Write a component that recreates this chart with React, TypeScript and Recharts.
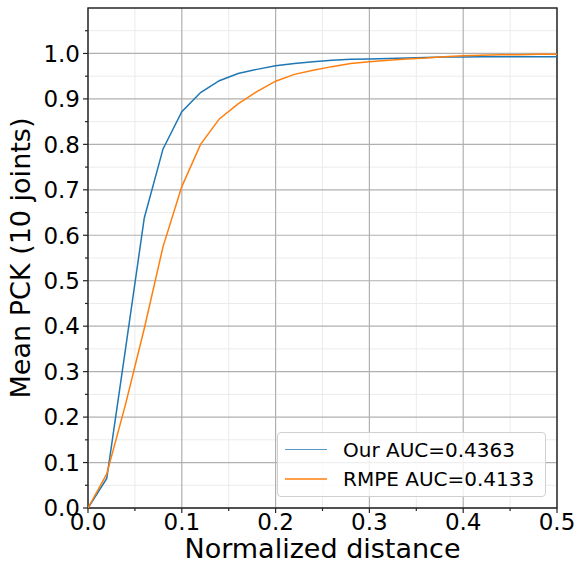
import React from 'react'
import { LineChart, Line, XAxis, YAxis, CartesianGrid, ReferenceArea } from 'recharts'

// normalized distance threshold
const distances = [
  0, 0.02, 0.04, 0.06, 0.08, 0.1, 0.12, 0.14, 0.16, 0.18, 0.2, 0.22, 0.24,
  0.26, 0.28, 0.3, 0.32, 0.34, 0.36, 0.38, 0.4, 0.42, 0.44, 0.46, 0.48, 0.5,
]
const ourPck = [
  0, 0.065, 0.35, 0.638, 0.79, 0.872, 0.914, 0.94, 0.956, 0.965, 0.973, 0.978,
  0.982, 0.985, 0.987, 0.988, 0.989, 0.99, 0.991, 0.992, 0.992, 0.993, 0.993,
  0.993, 0.993, 0.993,
]
const rmpePck = [
  0, 0.075, 0.228, 0.395, 0.575, 0.707, 0.8, 0.856, 0.889, 0.916, 0.939, 0.954,
  0.963, 0.971, 0.978, 0.982, 0.985, 0.988, 0.99, 0.993, 0.995, 0.996, 0.997,
  0.997, 0.998, 0.998,
]
const seriesNames = ['Our AUC=0.4363', 'RMPE AUC=0.4133']
const seriesKeys = ['our', 'rmpe']
const seriesColors = ['#1f77b4', '#ff7f0e']

const xMajor = [0, 0.1, 0.2, 0.3, 0.4, 0.5]
const xMinor = [0.05, 0.15, 0.25, 0.35, 0.45]
const yMajor = [0, 0.1, 0.2, 0.3, 0.4, 0.5, 0.6, 0.7, 0.8, 0.9, 1.0]
const yMinor = [0.05, 0.15, 0.25, 0.35, 0.45, 0.55, 0.65, 0.75, 0.85, 0.95, 1.05]

const data = distances.map((d, i) => ({ d, our: ourPck[i], rmpe: rmpePck[i] }))

const FONT = '"DejaVu Sans", sans-serif'
const INK = '#262626'

const isMajor = (v: number) => Math.abs(v * 10 - Math.round(v * 10)) < 1e-6

const XTick = ({ x, y, payload }: any) => {
  const v = payload.value
  const major = isMajor(v)
  return (
    <g>
      <line x1={x} x2={x} y1={y} y2={y + (major ? 5 : 3)} stroke={INK} strokeWidth={1.2} />
      {major && (
        <text x={x} y={y + 22} textAnchor="middle" fontSize={23} fontFamily={FONT} fill="#000">
          {v.toFixed(1)}
        </text>
      )}
    </g>
  )
}

const YTick = ({ x, y, payload }: any) => {
  const v = payload.value
  const major = isMajor(v)
  return (
    <g>
      <line x1={x} x2={x - (major ? 5 : 3)} y1={y} y2={y} stroke={INK} strokeWidth={1.2} />
      {major && (
        <text x={x - 8} y={y} dy="0.36em" textAnchor="end" fontSize={23} fontFamily={FONT} fill="#000">
          {v.toFixed(1)}
        </text>
      )}
    </g>
  )
}

export default function App() {
  const xTicks = [...xMajor, ...xMinor].sort((a, b) => a - b)
  const yTicks = [...yMajor, ...yMinor].sort((a, b) => a - b)
  return (
    <div style={{ position: 'absolute', left: 0, top: 0, width: 576, height: 565, background: '#fff' }}>
      <LineChart width={576} height={565} data={data} margin={{ top: 8, right: 19, bottom: 0, left: 0 }}>
        <CartesianGrid
          stroke="#ebebeb"
          strokeWidth={1}
          horizontalValues={yMinor}
          verticalValues={xMinor}
        />
        <CartesianGrid
          stroke="#b0b0b0"
          strokeWidth={1.2}
          horizontalValues={yMajor}
          verticalValues={xMajor}
        />
        <XAxis
          dataKey="d"
          type="number"
          domain={[0, 0.5]}
          ticks={xTicks}
          interval={0}
          height={57}
          axisLine={false}
          tickLine={false}
          tickSize={0}
          tickMargin={0}
          tick={<XTick />}
          label={{
            value: 'Normalized distance',
            position: 'insideBottom',
            offset: 7,
            style: { fontSize: 27, fontFamily: FONT, fill: '#000' },
          }}
        />
        <YAxis
          type="number"
          domain={[0, 1.1]}
          ticks={yTicks}
          interval={0}
          width={88}
          axisLine={false}
          tickLine={false}
          tickSize={0}
          tickMargin={0}
          tick={<YTick />}
          label={{
            value: 'Mean PCK (10 joints)',
            angle: -90,
            position: 'insideLeft',
            offset: 20,
            style: { fontSize: 27, fontFamily: FONT, fill: '#000', textAnchor: 'middle' },
          }}
        />
        {seriesKeys.map((k, i) => (
          <Line
            key={k}
            type="linear"
            dataKey={k}
            stroke={seriesColors[i]}
            strokeWidth={1.5}
            dot={false}
            isAnimationActive={false}
          />
        ))}
        <ReferenceArea x1={0} x2={0.5} y1={0} y2={1.1} fill="none" stroke={INK} strokeWidth={1.4} />
      </LineChart>
      <div
        style={{
          position: 'absolute',
          left: 277,
          top: 432,
          width: 267,
          height: 63,
          border: '1px solid #d0d0d0',
          borderRadius: 4,
          background: 'rgba(255,255,255,0.8)',
          fontFamily: FONT,
          fontSize: 20,
        }}
      >
        {seriesNames.map((name, i) => (
          <div key={name} style={{ position: 'absolute', left: 0, top: 2 + i * 29.5, height: 29, display: 'flex', alignItems: 'center' }}>
            <div style={{ marginLeft: 7, width: 42, height: 1.5, background: seriesColors[i], opacity: 0.75 }} />
            <span style={{ marginLeft: 16, whiteSpace: 'nowrap' }}>{name}</span>
          </div>
        ))}
      </div>
    </div>
  )
}
